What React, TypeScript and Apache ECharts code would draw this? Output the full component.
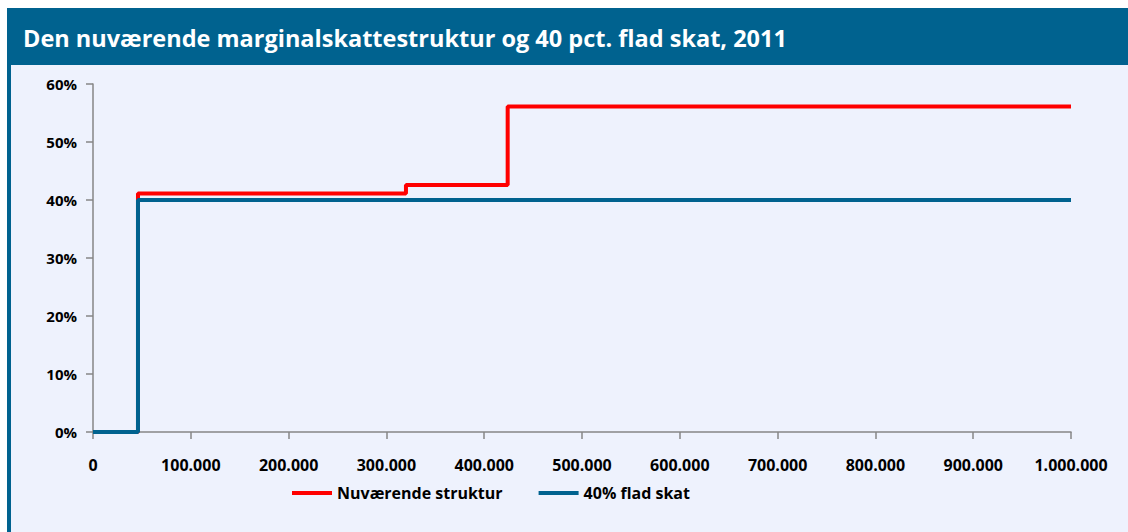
import React, { useEffect, useRef } from "react";
import * as echarts from "echarts";

const title = "Den nuværende marginalskattestruktur og 40 pct. flad skat, 2011";
const seriesNames = ["Nuværende struktur", "40% flad skat"];
// income thresholds (kr.) where marginal rate changes, and the rate from there on (%)
const currentIncome = [0, 46000, 320000, 424000, 1000000];
const currentRate = [0, 41.1, 42.6, 56.1, 56.1];
const flatIncome = [0, 46000, 1000000];
const flatRate = [0, 40, 40];

const FONT = "'Open Sans'";
const BLUE = "#00628F";
const RED = "#FF0000";
const BG = "#EEF2FD";

function fmtThousands(v: number): string {
  return String(Math.round(v)).replace(/\B(?=(\d{3})+(?!\d))/g, ".");
}

export default function App() {
  const ref = useRef<HTMLDivElement>(null);
  useEffect(() => {
    if (!ref.current) return;
    const chart = echarts.init(ref.current, undefined, { renderer: "svg" });
    chart.setOption({
      animation: false,
      backgroundColor: "#FFFFFF",
      graphic: [
        { type: "rect", z: -10, shape: { x: 7, y: 8, width: 1121, height: 524 }, style: { fill: BG } },
        { type: "rect", z: -9, shape: { x: 7, y: 8, width: 1121, height: 57 }, style: { fill: BLUE } },
        { type: "rect", z: -9, shape: { x: 7, y: 8, width: 4, height: 524 }, style: { fill: BLUE } },
        {
          type: "text",
          x: 23,
          y: 38,
          style: {
            text: title,
            fill: "#FFFFFF",
            font: `bold 23.5px ${FONT}`,
            verticalAlign: "middle",
          },
        },
      ],
      grid: { left: 93, right: 57, top: 84, bottom: 100, containLabel: false },
      legend: {
        left: 287,
        top: 480,
        itemWidth: 40,
        itemHeight: 4,
        itemGap: 36,
        icon: "rect",
        textStyle: { fontFamily: FONT, fontWeight: "bold", fontSize: 16, color: "#000" },
        data: seriesNames,
      },
      xAxis: {
        type: "value",
        min: 0,
        max: 1000000,
        interval: 100000,
        axisLine: { show: true, lineStyle: { color: "#868686", width: 1.5 } },
        axisTick: { show: true, length: 7, lineStyle: { color: "#868686", width: 1.5 } },
        splitLine: { show: false },
        axisLabel: {
          margin: 25,
          color: "#000",
          fontFamily: FONT,
          fontWeight: "bold",
          fontSize: 16,
          formatter: (v: number) => fmtThousands(v),
        },
      },
      yAxis: {
        type: "value",
        min: 0,
        max: 60,
        interval: 10,
        axisLine: { show: true, lineStyle: { color: "#868686", width: 1.5 } },
        axisTick: { show: true, length: 7, lineStyle: { color: "#868686", width: 1.5 } },
        splitLine: { show: false },
        axisLabel: {
          margin: 16,
          color: "#000",
          fontFamily: FONT,
          fontWeight: "bold",
          fontSize: 15,
          formatter: "{value}%",
        },
      },
      series: [
        {
          name: seriesNames[0],
          type: "line",
          step: "end",
          showSymbol: false,
          symbol: "none",
          data: currentIncome.map((x, i) => [x, currentRate[i]]),
          lineStyle: { color: RED, width: 4 },
          itemStyle: { color: RED },
        },
        {
          name: seriesNames[1],
          type: "line",
          step: "end",
          showSymbol: false,
          symbol: "none",
          data: flatIncome.map((x, i) => [x, flatRate[i]]),
          lineStyle: { color: BLUE, width: 4 },
          itemStyle: { color: BLUE },
        },
      ],
    });
    return () => chart.dispose();
  }, []);
  return (
    <div
      ref={ref}
      style={{ position: "absolute", left: 0, top: 0, width: 1128, height: 532 }}
    />
  );
}
